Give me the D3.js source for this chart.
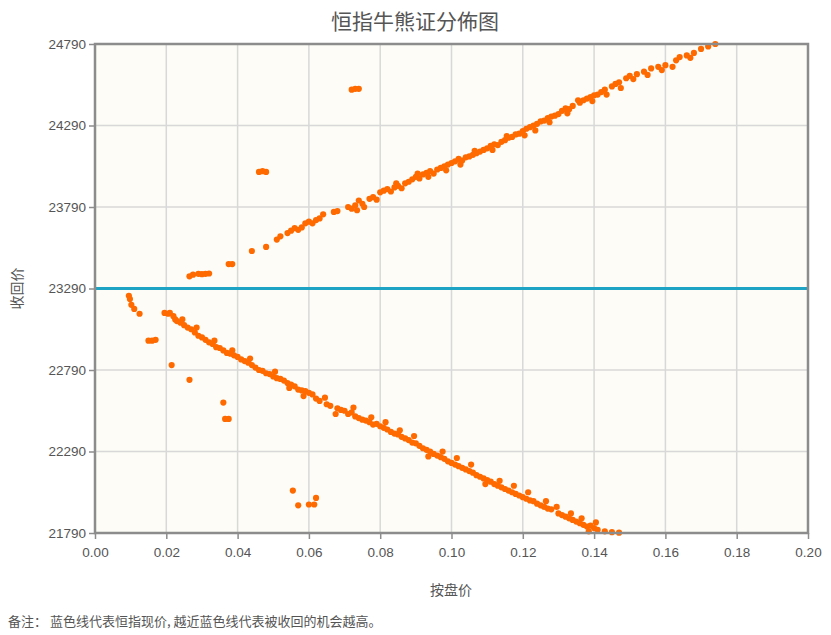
<!DOCTYPE html>
<html><head><meta charset="utf-8">
<script src="https://cdn.jsdelivr.net/npm/d3@7"></script>
<style>body{margin:0;background:#fff;font-family:"Noto Sans CJK SC","Noto Sans",sans-serif}</style>
</head><body>
<svg id="c" width="831" height="635"></svg>
<script>
var xTicks = [0,0.02,0.04,0.06,0.08,0.10,0.12,0.14,0.16,0.18,0.20];
var yTicks = [21790,22290,22790,23290,23790,24290,24790];
var spotPrice = 23290;

// 牛证 (upper band): [按盘价, 收回价]
var bullPoints = [
  [0.0265,23365],[0.0275,23375],[0.029,23380],[0.030,23378],[0.031,23380],[0.032,23382],
  [0.0375,23440],[0.0385,23440],[0.044,23520],[0.048,23545],[0.051,23590],[0.052,23610],
  [0.054,23630],[0.055,23645],[0.056,23660],[0.057,23650],[0.058,23665],[0.059,23690],
  [0.060,23700],[0.061,23690],[0.062,23710],[0.063,23720],[0.064,23745],[0.067,23760],
  [0.068,23765],[0.071,23790],[0.072,23780],[0.073,23800],[0.074,23830],[0.075,23810],
  [0.077,23840],[0.078,23850],[0.079,23835],[0.081,23890],[0.082,23900],[0.083,23885],
  [0.084,23910],[0.085,23920],[0.086,23905],[0.087,23935],[0.088,23945],[0.089,23960],
  [0.090,23975],[0.091,23965],[0.092,23990],[0.093,24000],[0.094,24010],[0.095,23995],
  [0.096,24020],[0.097,24030],[0.098,24040],[0.099,24050],[0.100,24060],[0.101,24070],
  [0.102,24085],[0.103,24075],[0.104,24095],[0.105,24100],[0.106,24110],[0.107,24120],
  [0.108,24130],[0.109,24140],[0.110,24150],[0.111,24165],[0.112,24175],[0.113,24170],
  [0.114,24190],[0.115,24200],[0.116,24215],[0.117,24220],[0.118,24235],[0.119,24240],
  [0.120,24255],[0.121,24270],[0.122,24280],[0.123,24290],[0.124,24300],[0.125,24315],
  [0.126,24320],[0.127,24335],[0.128,24345],[0.129,24350],[0.130,24360],[0.131,24380],
  [0.132,24395],[0.133,24390],[0.134,24410],[0.136,24430],[0.137,24445],[0.138,24455],
  [0.139,24465],[0.140,24475],[0.141,24480],[0.142,24495],[0.143,24510],[0.145,24530],
  [0.146,24545],[0.147,24555],[0.149,24580],[0.150,24595],[0.152,24605],[0.154,24620],
  [0.156,24640],[0.158,24650],[0.160,24660],[0.163,24690],[0.164,24710],[0.166,24720],
  [0.168,24735],[0.170,24760],[0.172,24775],[0.174,24790],
  [0.0735,23770],[0.0755,23790],[0.080,23880],[0.0845,23935],[0.0905,23995],[0.0935,23975],
  [0.0985,24015],[0.1025,24050],[0.1065,24135],[0.1115,24140],[0.1155,24225],[0.1205,24230],
  [0.1235,24260],[0.1275,24310],[0.1325,24365],[0.1355,24445],[0.1395,24440],[0.1435,24480],
  [0.1475,24520],[0.151,24575],[0.155,24600],[0.159,24630],[0.162,24650],[0.167,24705],
  [0.046,24005],[0.047,24010],[0.048,24005],[0.072,24510],[0.073,24515],[0.074,24515]
];

// 熊证 (lower band): [按盘价, 收回价]
var bearPoints = [
  [0.0095,23245],[0.0098,23225],[0.0102,23190],[0.011,23165],[0.0125,23135],
  [0.015,22970],[0.016,22970],[0.017,22975],[0.0215,22820],[0.0265,22730],
  [0.036,22590],[0.0365,22490],[0.0375,22490],
  [0.0555,22050],[0.057,21960],[0.060,21965],[0.0615,21965],[0.062,22005],
  [0.0195,23140],[0.0205,23135],[0.021,23140],[0.022,23120],[0.0225,23100],[0.023,23090],
  [0.024,23080],[0.025,23065],[0.026,23050],[0.027,23040],[0.028,23020],[0.029,23000],
  [0.030,22990],[0.031,22975],[0.032,22960],[0.033,22950],[0.034,22930],[0.035,22925],
  [0.036,22910],[0.037,22895],[0.038,22890],[0.039,22880],[0.040,22870],[0.041,22855],
  [0.042,22845],[0.043,22835],[0.044,22820],[0.045,22805],[0.046,22790],[0.047,22785],
  [0.048,22770],[0.049,22765],[0.050,22750],[0.051,22740],[0.052,22735],[0.053,22725],
  [0.054,22710],[0.055,22700],[0.056,22690],[0.057,22670],[0.058,22665],[0.059,22660],
  [0.060,22650],[0.061,22640],[0.062,22615],[0.063,22600],[0.065,22580],[0.066,22570],
  [0.068,22555],[0.069,22545],[0.070,22540],[0.071,22520],[0.072,22530],[0.073,22505],
  [0.074,22495],[0.075,22485],[0.076,22480],[0.077,22470],[0.078,22455],[0.079,22460],
  [0.080,22445],[0.081,22435],[0.082,22425],[0.083,22410],[0.084,22400],[0.085,22395],
  [0.086,22380],[0.087,22370],[0.088,22360],[0.089,22345],[0.090,22340],[0.091,22325],
  [0.092,22310],[0.093,22300],[0.094,22290],[0.095,22275],[0.096,22265],[0.097,22255],
  [0.098,22245],[0.099,22230],[0.100,22220],[0.101,22210],[0.102,22200],[0.103,22190],
  [0.104,22180],[0.105,22170],[0.106,22160],[0.107,22145],[0.108,22135],[0.109,22125],
  [0.110,22115],[0.111,22105],[0.112,22090],[0.113,22080],[0.114,22070],[0.115,22060],
  [0.116,22050],[0.117,22040],[0.118,22030],[0.119,22020],[0.120,22010],[0.121,22000],
  [0.122,21990],[0.123,21985],[0.124,21970],[0.125,21960],[0.126,21950],[0.127,21940],
  [0.128,21935],[0.130,21910],[0.131,21900],[0.132,21890],[0.133,21880],[0.134,21870],
  [0.135,21860],[0.136,21850],[0.137,21840],[0.138,21830],[0.139,21835],[0.140,21820],
  [0.141,21810],[0.143,21800],[0.145,21795],[0.147,21792],
  [0.0245,23100],[0.0285,23050],[0.0335,22970],[0.0385,22910],[0.0435,22860],[0.0505,22780],
  [0.0545,22680],[0.0585,22630],[0.0645,22620],[0.0675,22520],[0.0725,22560],[0.0775,22500],
  [0.0815,22470],[0.0855,22420],[0.0895,22385],[0.0935,22260],[0.0975,22290],[0.1015,22250],
  [0.1055,22210],[0.1095,22090],[0.1135,22110],[0.1175,22080],[0.1215,22040],[0.1265,21985],
  [0.1295,21950],[0.1335,21910],[0.1365,21880],[0.1405,21855],[0.1385,21800]
];

var svg = d3.select("#c");
var m = {l: 95, r: 23, t: 44, b: 102};
var W = 831 - m.l - m.r, H = 635 - m.t - m.b;
var x = d3.scaleLinear().domain([0, 0.2]).range([m.l, m.l + W]);
var y = d3.scaleLinear().domain([21790, 24790]).range([m.t + H, m.t]);

svg.append("rect").attr("x", m.l).attr("y", m.t).attr("width", W).attr("height", H).attr("fill", "#fdfcf6");

svg.append("g").selectAll("line").data(xTicks.slice(1, -1)).join("line")
  .attr("x1", x).attr("x2", x).attr("y1", m.t).attr("y2", m.t + H).attr("stroke", "#d8d8d8").attr("stroke-width", 1.5);
svg.append("g").selectAll("line").data(yTicks.slice(1, -1)).join("line")
  .attr("y1", y).attr("y2", y).attr("x1", m.l).attr("x2", m.l + W).attr("stroke", "#d8d8d8").attr("stroke-width", 1.5);

var pts = bullPoints.concat(bearPoints).filter(function(d) { return d[1] >= 21790 && d[1] <= 24790; });
svg.append("g").selectAll("circle").data(pts).join("circle")
  .attr("cx", function(d) { return x(d[0]); }).attr("cy", function(d) { return y(d[1]); })
  .attr("r", 3.1).attr("fill", "#ff6a00");

svg.append("line").attr("x1", m.l).attr("x2", m.l + W).attr("y1", y(spotPrice)).attr("y2", y(spotPrice))
  .attr("stroke", "#1fa3c4").attr("stroke-width", 3);

// frame
svg.append("path").attr("d", "M" + (m.l + W) + "," + (m.t + H) + "H" + m.l + "V" + m.t + "H" + (m.l + W) + "Z")
  .attr("fill", "none").attr("stroke", "#8c8c8c").attr("stroke-width", 2.5);

var xa = svg.append("g").attr("transform", "translate(0," + (m.t + H) + ")")
  .call(d3.axisBottom(x).tickValues(xTicks).tickFormat(d3.format(".2f")).tickSize(6));
var ya = svg.append("g").attr("transform", "translate(" + m.l + ",0)")
  .call(d3.axisLeft(y).tickValues(yTicks).tickFormat(d3.format("d")).tickSize(6));
[xa, ya].forEach(function(a) {
  a.select(".domain").remove();
  a.selectAll("line").attr("stroke", "#8c8c8c").attr("stroke-width", 1.5);
  a.selectAll("text").attr("fill", "#555").style("font-size", "13.5px").style("font-family", "Liberation Sans, Arial, sans-serif");
});
xa.selectAll("text").attr("dy", "1.1em");

svg.append("text").attr("x", 415).attr("y", 29).attr("text-anchor", "middle")
  .attr("fill", "#555").style("font-size", "21px").text("恒指牛熊证分佈图");
svg.append("text").attr("x", 451).attr("y", 595).attr("text-anchor", "middle")
  .attr("fill", "#555").style("font-size", "14px").text("按盘价");
svg.append("text").attr("transform", "translate(22," + y(spotPrice) + ") rotate(-90)").attr("text-anchor", "middle")
  .attr("fill", "#555").style("font-size", "14px").text("收回价");
svg.append("text").attr("x", 8).attr("y", 626)
  .attr("fill", "#555").style("font-size", "13px").text("备注：  蓝色线代表恒指现价, 越近蓝色线代表被收回的机会越高。");
</script>
</body></html>
